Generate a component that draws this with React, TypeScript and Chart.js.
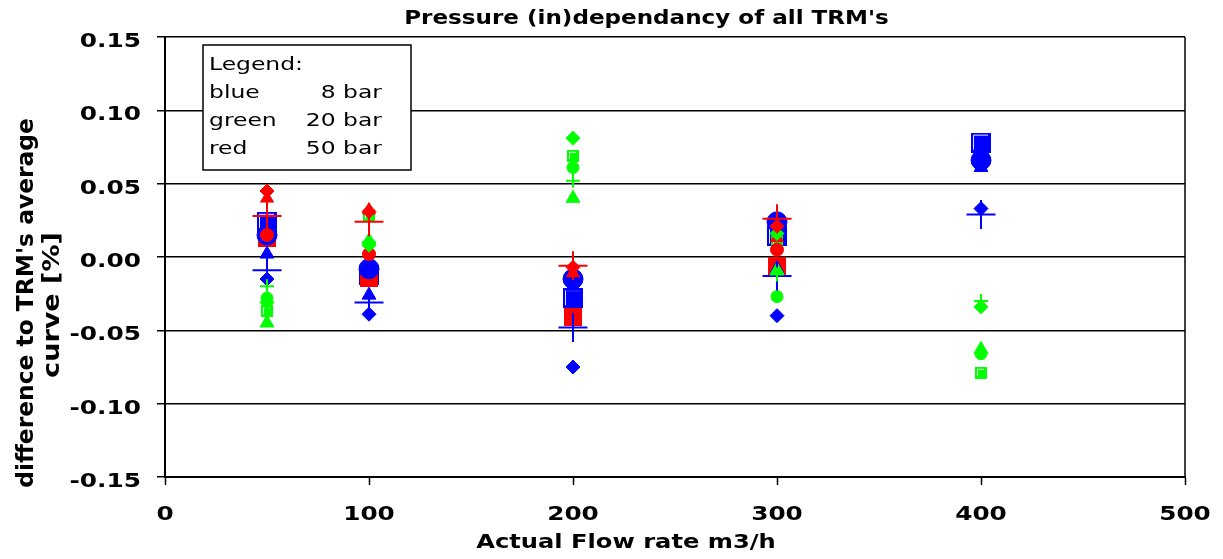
import { useEffect, useRef } from 'react';
import { Chart, registerables } from 'chart.js';

Chart.register(...registerables);

// ---------- data ----------
const X_VALUES = [50, 100, 200, 300, 400];

const BLUE_DIAMOND = [-0.015, -0.039, -0.075, -0.040, 0.033];
const BLUE_SQUARE = [0.024, -0.012, -0.028, 0.014, 0.078];
const BLUE_TRIANGLE = [0.002, -0.026, -0.020, -0.008, 0.061];
const BLUE_CIRCLE = [0.015, -0.008, -0.015, 0.024, 0.066];
const BLUE_CROSS = [-0.009, -0.031, -0.048, -0.013, 0.029];

const GREEN_DIAMOND = [-0.031, 0.008, 0.081, 0.016, -0.034];
const GREEN_SQUARE = [-0.037, 0.028, 0.069, 0.010, -0.079];
const GREEN_TRIANGLE = [-0.045, 0.011, 0.040, -0.009, -0.063];
const GREEN_CIRCLE = [-0.028, 0.009, 0.061, -0.027, -0.066];
const GREEN_CROSS = [-0.020, 0.010, 0.052, -0.012, -0.030];

const RED_DIAMOND = [0.045, 0.031, -0.007, 0.021, null];
const RED_SQUARE = [0.013, -0.014, -0.041, -0.006, null];
const RED_TRIANGLE = [0.040, 0.032, -0.011, 0.013, null];
const RED_CIRCLE = [0.015, 0.002, -0.040, 0.005, null];
const RED_CROSS = [0.028, 0.024, -0.006, 0.026, null];

const Y_TICKS = [-0.15, -0.1, -0.05, 0, 0.05, 0.1, 0.15];
const X_TICKS = [0, 100, 200, 300, 400, 500];

const TITLE = "Pressure (in)dependancy of all TRM's";
const X_TITLE = 'Actual Flow rate m3/h';
const Y_TITLE = ["difference to TRM's average", 'curve [%]'];
const LEGEND_LINES: [string, string][] = [
  ['Legend:', ''],
  ['blue', '8 bar'],
  ['green', '20 bar'],
  ['red', '50 bar'],
];

// ---------- styles ----------
const BLUE = '#0000ff';
const GREEN = '#00ff00';
const RED = '#ff0000';
const FONT = '"DejaVu Sans", Verdana, sans-serif';

function squareImage(size: number, color: string, highlight: boolean) {
  const c = document.createElement('canvas');
  c.width = size;
  c.height = size;
  const g = c.getContext('2d')!;
  g.fillStyle = color;
  g.fillRect(0, 0, size, size);
  if (highlight) {
    g.strokeStyle = 'rgba(255,255,255,0.9)';
    g.lineWidth = 1;
    g.beginPath();
    g.moveTo(2.5, size - 3);
    g.lineTo(2.5, 2.5);
    g.lineTo(size - 3, 2.5);
    g.stroke();
  }
  return c;
}

function toPoints(values: (number | null)[]) {
  const pts: { x: number; y: number }[] = [];
  X_VALUES.forEach((x, i) => {
    const v = values[i];
    if (v !== null && v !== undefined) pts.push({ x, y: v });
  });
  return pts;
}

function ds(label: string, values: (number | null)[], color: string, style: any, radius: number, borderWidth = 1) {
  return {
    label,
    data: toPoints(values),
    showLine: false,
    pointStyle: style,
    pointRadius: radius,
    pointHoverRadius: radius,
    pointBackgroundColor: color,
    pointBorderColor: color,
    pointBorderWidth: borderWidth,
    backgroundColor: color,
    borderColor: color,
  };
}

function inkWidth(ctx: CanvasRenderingContext2D, font: string, text: string) {
  ctx.save();
  ctx.font = font;
  const m = ctx.measureText(text);
  ctx.restore();
  return m.actualBoundingBoxLeft + m.actualBoundingBoxRight;
}

function drawText(
  ctx: CanvasRenderingContext2D,
  text: string,
  x: number,
  y: number,
  font: string,
  sx: number,
  align: CanvasTextAlign,
  rotate = false,
) {
  ctx.save();
  ctx.font = font;
  ctx.fillStyle = '#000';
  ctx.textAlign = align;
  ctx.textBaseline = 'alphabetic';
  ctx.translate(x, y);
  if (rotate) ctx.rotate(-Math.PI / 2);
  ctx.scale(sx, 1);
  ctx.fillText(text, 0, 0);
  ctx.restore();
}

const decorPlugin = {
  id: 'decor',
  afterDraw(chart: any) {
    const ctx: CanvasRenderingContext2D = chart.ctx;
    const area = chart.chartArea;
    const xs = chart.scales.x;
    const ys = chart.scales.y;

    // right frame line
    ctx.save();
    ctx.strokeStyle = '#000';
    ctx.lineWidth = 1.5;
    ctx.beginPath();
    ctx.moveTo(area.right, area.top);
    ctx.lineTo(area.right, area.bottom);
    ctx.stroke();
    ctx.restore();

    // title
    const tFont = `bold 19px ${FONT}`;
    drawText(ctx, TITLE, 646.5, 23.5, tFont, 483 / inkWidth(ctx, tFont, TITLE), 'center');

    // y tick labels
    const yFont = `bold 20px ${FONT}`;
    const ySx = 60 / inkWidth(ctx, yFont, '0.10');
    Y_TICKS.forEach((v) => {
      const label = (Math.abs(v) < 1e-9 ? 0 : v).toFixed(2);
      drawText(ctx, label, 141, ys.getPixelForValue(v) + 10, yFont, ySx, 'right');
    });

    // x tick labels
    const xFont = `bold 20px ${FONT}`;
    const xSx = 48 / inkWidth(ctx, xFont, '100');
    X_TICKS.forEach((v) => {
      drawText(ctx, String(v), xs.getPixelForValue(v), 520, xFont, xSx, 'center');
    });

    // x axis title
    const xtFont = `bold 20px ${FONT}`;
    drawText(ctx, X_TITLE, 626, 548, xtFont, 298 / inkWidth(ctx, xtFont, X_TITLE), 'center');

    // y axis title (two rotated lines)
    const ytFont = `bold 23px ${FONT}`;
    drawText(ctx, Y_TITLE[0], 33, 303, ytFont, 368 / inkWidth(ctx, ytFont, Y_TITLE[0]), 'center', true);
    drawText(ctx, Y_TITLE[1], 59, 305, ytFont, 144 / inkWidth(ctx, ytFont, Y_TITLE[1]), 'center', true);

    // legend box
    ctx.save();
    ctx.fillStyle = '#fff';
    ctx.fillRect(203, 45, 208, 125);
    ctx.strokeStyle = '#000';
    ctx.lineWidth = 1.5;
    ctx.strokeRect(203, 45, 208, 125);
    ctx.restore();
    const lFont = `18px ${FONT}`;
    const lSx = 90 / inkWidth(ctx, lFont, 'Legend:');
    const baselines = [70, 97.5, 125.5, 153.5];
    LEGEND_LINES.forEach(([a, b], i) => {
      drawText(ctx, a, 209, baselines[i], lFont, lSx, 'left');
      if (b) drawText(ctx, b, 382, baselines[i], lFont, lSx, 'right');
    });
  },
};

export default function App() {
  const ref = useRef<HTMLCanvasElement>(null);

  useEffect(() => {
    if (!ref.current) return;

    const bottomToTop = [
      ds('blue square', BLUE_SQUARE, BLUE, squareImage(20, BLUE, true), 10),
      ds('green square', GREEN_SQUARE, GREEN, squareImage(12, GREEN, true), 6),
      ds('red square', RED_SQUARE, RED, squareImage(18, RED, false), 9),
      ds('blue triangle', BLUE_TRIANGLE, BLUE, 'triangle', 8),
      ds('green triangle', GREEN_TRIANGLE, GREEN, 'triangle', 8),
      ds('blue circle', BLUE_CIRCLE, BLUE, 'circle', 10),
      ds('green circle', GREEN_CIRCLE, GREEN, 'circle', 6),
      ds('red circle', RED_CIRCLE, RED, 'circle', 6.5),
      ds('red triangle', RED_TRIANGLE, RED, 'triangle', 7.5),
      ds('blue diamond', BLUE_DIAMOND, BLUE, 'rectRot', 7),
      ds('green diamond', GREEN_DIAMOND, GREEN, 'rectRot', 7),
      ds('red diamond', RED_DIAMOND, RED, 'rectRot', 7),
      ds('blue cross', BLUE_CROSS, BLUE, 'cross', 14.5, 2),
      ds('green cross', GREEN_CROSS, GREEN, 'cross', 7, 2),
      ds('red cross', RED_CROSS, RED, 'cross', 14.5, 2),
    ];
    const datasets = bottomToTop.slice().reverse();

    const chart = new Chart(ref.current, {
      type: 'scatter',
      data: { datasets } as any,
      options: {
        responsive: false,
        animation: false,
        devicePixelRatio: 1,
        layout: { padding: { top: 37, right: 38, left: 0, bottom: 0 } },
        plugins: {
          legend: { display: false },
          tooltip: { enabled: false },
          title: { display: false },
        },
        events: [],
        scales: {
          x: {
            type: 'linear',
            min: 0,
            max: 500,
            afterBuildTicks: (s: any) => {
              s.ticks = X_TICKS.map((v) => ({ value: v }));
            },
            afterFit: (s: any) => {
              s.height = 82;
            },
            ticks: { display: false },
            grid: {
              display: true,
              drawOnChartArea: false,
              drawTicks: true,
              tickLength: 8,
              tickColor: '#000',
              tickWidth: 1.5,
              color: '#000',
            },
            border: { display: true, color: '#000', width: 2 },
          },
          y: {
            type: 'linear',
            min: -0.15,
            max: 0.15,
            afterBuildTicks: (s: any) => {
              s.ticks = Y_TICKS.map((v) => ({ value: v }));
            },
            afterFit: (s: any) => {
              s.width = 165;
            },
            ticks: { display: false },
            grid: {
              display: true,
              drawOnChartArea: true,
              drawTicks: true,
              tickLength: 8,
              tickColor: '#000',
              tickWidth: 1.5,
              color: '#000',
              lineWidth: 1.5,
            },
            border: { display: true, color: '#000', width: 2 },
          },
        },
      } as any,
      plugins: [decorPlugin],
    });

    return () => chart.destroy();
  }, []);

  return (
    <div style={{ position: 'absolute', left: 0, top: 0, width: 1223, height: 559, background: '#fff' }}>
      <canvas ref={ref} width={1223} height={559} style={{ width: 1223, height: 559, display: 'block' }} />
    </div>
  );
}
